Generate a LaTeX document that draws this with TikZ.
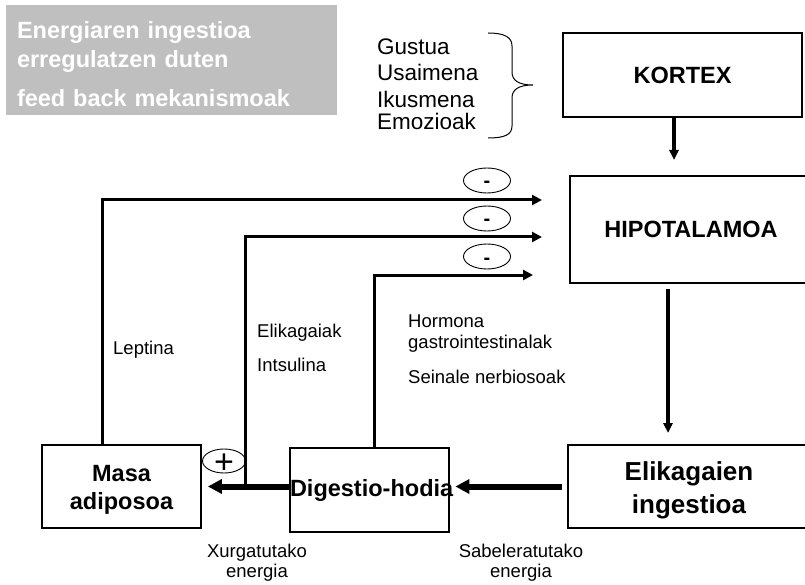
\documentclass[tikz,border=0pt]{standalone}
\usepackage{fontspec}
\setmainfont{Liberation Sans}
\usetikzlibrary{arrows.meta,shapes.geometric,calc}
\definecolor{panel}{RGB}{191,191,191}

\begin{document}
\begin{tikzpicture}[x=1pt,y=-1pt,
  box/.style={draw, line width=2.8pt, font=\bfseries\fontsize{23.5}{28}\selectfont,
    align=center, inner sep=0pt},
  conn/.style={line width=3pt, -{Triangle[length=10pt,width=10pt]}},
  down/.style={line width=3.5pt, -{Triangle[length=10pt,width=9pt]}},
  flow/.style={line width=6pt, -{Triangle[length=14pt,width=14pt]}},
  sign/.style={draw, ellipse, line width=0.9pt, inner sep=0pt,
    text height=0pt, text depth=0pt},
  minus/.style={sign, minimum width=47pt, minimum height=25pt,
    font=\bfseries\fontsize{20}{24}\selectfont},
  plus/.style={sign, minimum width=43pt, minimum height=24pt,
    font=\fontsize{34}{34}\selectfont},
  lbl/.style={font=\fontsize{18.5}{22}\selectfont, anchor=base west, inner sep=0pt},
  clbl/.style={font=\fontsize{18.5}{22}\selectfont, anchor=base, inner sep=0pt},
  sense/.style={font=\fontsize{22.5}{27}\selectfont, anchor=base west, inner sep=0pt},
]
\useasboundingbox (0,0) rectangle (805,585);

% title panel
\node[fill=panel, minimum width=331pt, minimum height=110pt, text width=309pt,
  inner xsep=11pt, inner ysep=0pt, align=left, text=white,
  font=\bfseries\fontsize{23.5}{29}\selectfont] (title) at (171.5,60)
  {\rule{0pt}{26pt}Energiaren ingestioa\\erregulatzen duten\\[10pt]feed back mekanismoak};

% sensory inputs and their brace
\node[sense] (gustua) at (377,55) {Gustua};
\node[sense] (usaimena) at (377,81) {Usaimena};
\node[sense] (ikusmena) at (377,108) {Ikusmena};
\node[sense] (emozioak) at (377,130) {Emozioak};
\draw[line width=1pt] (488,33) .. controls (504,33) and (512,37) .. (512,46)
  -- (512,72) .. controls (512,80) and (518,85) .. (533,85)
  .. controls (518,85) and (512,90) .. (512,98)
  -- (512,126) .. controls (512,135) and (504,138) .. (488,138);

% main boxes
\node[box, minimum width=239pt, minimum height=84pt] (kortex) at (682.5,75) {KORTEX};
\node[box, minimum width=242pt, minimum height=107pt] (hipo) at (691,229.5) {HIPOTALAMOA};
\node[box, font=\bfseries\fontsize{26}{33}\selectfont, minimum width=242pt,
  minimum height=83pt] (ingestio) at (689,486.5) {\rule{0pt}{27pt}Elikagaien\\ingestioa};
\node[box, minimum width=159pt, minimum height=84pt, text width=159pt]
  (digestio) at (369.5,490) {\mbox{Digestio-hodia}};
\node[box, minimum width=159pt, minimum height=83pt] (masa) at (121.5,486.5)
  {\rule{0pt}{23.5pt}Masa\\adiposoa};

% vertical arrows on the right
\coordinate (k1) at (674,160);
\coordinate (h1) at (668,433);
\draw[down] (k1 |- kortex.south) -- (k1);
\draw[down, shorten <=5pt] (h1 |- hipo.south) -- (h1);

% energy flow along the bottom
\draw[flow, shorten <=5pt, shorten >=5pt] (ingestio.west) -- (ingestio.west -| digestio.east);
\draw[flow, shorten >=5.5pt] (digestio.west |- masa.east) -- (masa.east);

% feedback signals to the hypothalamus
\coordinate (j) at ($(masa.east)!0.5!(digestio.west |- masa.east)$);
\coordinate (c1) at (102,200);
\coordinate (c3) at (374,275);
\coordinate (t1) at (542,200);
\coordinate (t2) at (542,237);
\coordinate (t3) at (533,275);
\draw[conn] (c1 |- masa.north) -- (c1) -- (t1);
\draw[conn] (j) |- (t2);
\draw[conn] (c3 |- digestio.north) -- (c3) -- (t3);

% signs
\node[minus] (s1) at (487,180.5) {\raisebox{-7.5pt}{-}};
\node[minus] (s2) at (487,218.5) {\raisebox{-7.5pt}{-}};
\node[minus] (s3) at (487,256.5) {\raisebox{-7.5pt}{-}};
\node[plus] (s4) at (224,461) {\raisebox{-12pt}{+}};

% signal labels
\node[lbl] (leptina) at (113,354) {Leptina};
\node[lbl] (elikagaiak) at (257,337) {Elikagaiak};
\node[lbl] (intsulina) at (257,371) {Intsulina};
\node[lbl] (hormona) at (408,327) {Hormona};
\node[lbl] (gastro) at (408,348) {gastrointestinalak};
\node[lbl] (seinale) at (408,383) {Seinale nerbiosoak};

% energy labels
\node[clbl] (xurg) at (257,557) {Xurgatutako};
\node[clbl] (xurg2) at (257,577) {energia};
\node[clbl] (sabel) at (521,557) {Sabeleratutako};
\node[clbl] (sabel2) at (521,577) {energia};
\end{tikzpicture}
\end{document}
